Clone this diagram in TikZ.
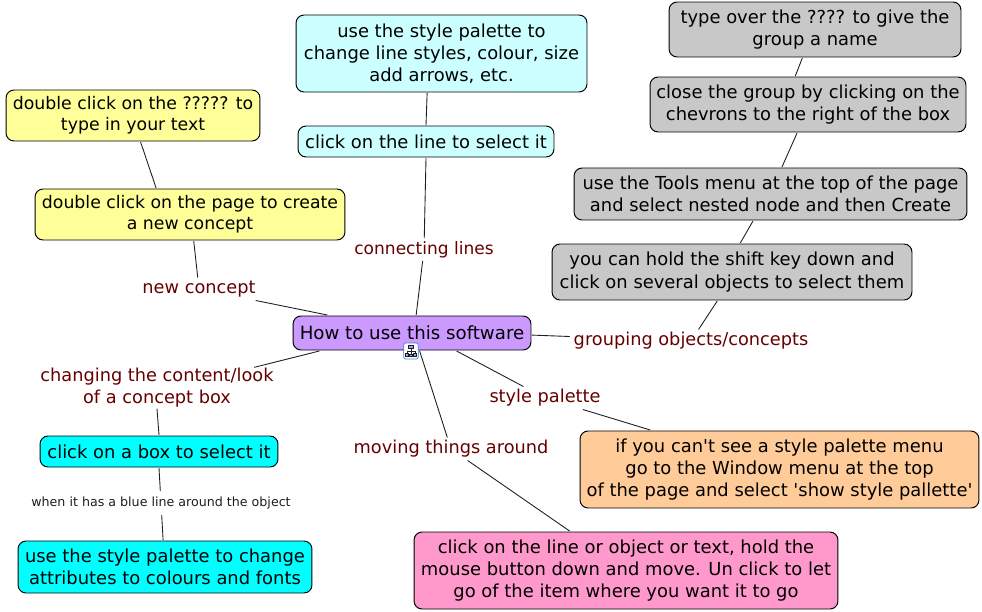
\documentclass[tikz,border=0pt]{standalone}
\usepackage{fontspec}
\setmainfont{DejaVu Sans}
\definecolor{lblred}{RGB}{102,0,0}
\definecolor{lineblk}{RGB}{30,30,30}
\definecolor{boxaqua}{RGB}{0,255,255}
\begin{document}
\begin{tikzpicture}[x=0.02cm,y=-0.02cm,
  every node/.style={outer sep=0.02cm, align=center, inner sep=0pt},
  cbox/.style={draw=black, line width=0.55pt, rounded corners=0.16cm, font=\fontsize{10.2}{12.6}\selectfont},
  lbl/.style={text=lblred, font=\fontsize{10.1}{12.6}\selectfont, minimum height=0.42cm, inner xsep=0.06cm},
  conn/.style={draw=lineblk, line width=0.5pt}]
\useasboundingbox (0,0) rectangle (982,611);

\node[cbox, fill={rgb,255:red,204;green,153;blue,255}, minimum width=4.76cm, minimum height=0.68cm, font=\fontsize{10.35}{12.6}\selectfont] (root) at (412,333) {How to use this software};

\node[cbox, fill={rgb,255:red,255;green,255;blue,153}, minimum width=5.08cm, minimum height=1.02cm, font=\fontsize{9.85}{11.8}\selectfont] (dbltext) at (133,115.5) {double click on the ????? to\\type in your text};
\node[cbox, fill={rgb,255:red,255;green,255;blue,153}, minimum width=6.2cm, minimum height=1.02cm, font=\fontsize{9.85}{11.8}\selectfont] (dblpage) at (190,214.5) {double click on the page to create\\a new concept};
\node[lbl] (newconcept) at (199,289) {new concept};

\node[cbox, fill={rgb,255:red,204;green,255;blue,255}, minimum width=5.82cm, minimum height=1.54cm] (palette) at (441.5,53.5) {use the style palette to\\change line styles, colour, size\\add arrows, etc.};
\node[cbox, fill={rgb,255:red,204;green,255;blue,255}, minimum width=5.12cm, minimum height=0.62cm] (clickline) at (426,141.5) {click on the line to select it};
\node[lbl, font=\fontsize{9.7}{12.6}\selectfont] (connecting) at (424,249.5) {connecting lines};

\node[cbox, fill={rgb,255:red,200;green,200;blue,200}, minimum width=5.84cm, minimum height=1.1cm] (typeover) at (815,29.5) {type over the ???? to give the\\group a name};
\node[cbox, fill={rgb,255:red,200;green,200;blue,200}, minimum width=6.32cm, minimum height=1.1cm] (closegrp) at (808,104.5) {close the group by clicking on the\\chevrons to the right of the box};
\node[cbox, fill={rgb,255:red,200;green,200;blue,200}, minimum width=7.86cm, minimum height=1.04cm] (tools) at (770.5,194) {use the Tools menu at the top of the page\\and select nested node and then Create};
\node[cbox, fill={rgb,255:red,200;green,200;blue,200}, minimum width=7.2cm, minimum height=1.12cm] (shift) at (732,272) {you can hold the shift key down and\\click on several objects to select them};
\node[lbl] (grouping) at (691,341) {grouping objects/concepts};

\node[lbl] (stylepal) at (545,398) {style palette};
\node[cbox, fill={rgb,255:red,255;green,204;blue,153}, minimum width=7.98cm, minimum height=1.54cm] (ifbox) at (779.5,469.5) {if you can\textquotesingle t see a style palette menu\\go to the Window menu at the top\\of the page and select \textquotesingle show style pallette\textquotesingle};

\node[lbl] (moving) at (451,449) {moving things around};
\node[cbox, fill={rgb,255:red,255;green,153;blue,204}, minimum width=8.48cm, minimum height=1.54cm] (gobox) at (626,570.5) {click on the line or object or text, hold the\\mouse button down and move. Un click to let\\go of the item where you want it to go};

\node[lbl] (changing) at (157,388) {changing the content/look\\of a concept box};
\node[cbox, fill=boxaqua, minimum width=4.76cm, minimum height=0.62cm] (clickbox) at (159,451.5) {click on a box to select it};
\node[text=lineblk, font=\fontsize{7.2}{9}\selectfont, minimum height=0.44cm] (bluelbl) at (161,503) {when it has a blue line around the object};
\node[cbox, fill=boxaqua, minimum width=5.88cm, minimum height=1.04cm] (attrbox) at (165,567) {use the style palette to change\\attributes to colours and fonts};

\draw[conn] (dbltext.-74) -- (dblpage.142);
\draw[conn] (dblpage.-82) -- (newconcept);
\draw[conn] (newconcept) -- (root.168);
\draw[conn] (palette.-110) -- (clickline.north);
\draw[conn] (clickline.south) -- (connecting);
\draw[conn] (connecting) -- (root.77);
\draw[conn] (typeover.-114) -- (closegrp.114);
\draw[conn] (closegrp.-111) -- (tools.67);
\draw[conn] (tools.-123) -- (shift.74);
\draw[conn] (shift.-117) -- (grouping);
\draw[conn] (root.-1) -- (grouping);
\draw[conn] (root.-22) -- (stylepal);
\draw[conn] (stylepal) -- (ifbox.163.5);
\draw[conn] (root.-67) -- (moving);
\draw[conn] (moving) -- (gobox.145);
\draw[conn] (root.191) -- (changing.12.8);
\draw[conn] (changing.south) -- (clickbox.north);
\draw[conn] (clickbox.south) -- (bluelbl);
\draw[conn] (bluelbl) -- (attrbox.94);

\node[draw={rgb,255:red,70;green,130;blue,220}, fill=white, rounded corners=0.04cm, minimum width=0.29cm, minimum height=0.32cm] (treeicon) at (411,351) {};
\draw[lineblk, line width=0.35pt, fill=blue!40] (408.5,345.5) rectangle (413.5,348);
\draw[lineblk, line width=0.35pt] (411,348) -- (411,354) (407,351) -- (415,351) (407,351) -- (407,353) (415,351) -- (415,353);
\draw[lineblk, line width=0.35pt, fill=blue!40] (405.5,353) rectangle (408.5,356);
\draw[lineblk, line width=0.35pt, fill=blue!40] (409.5,354) rectangle (412.5,356);
\draw[lineblk, line width=0.35pt, fill=blue!40] (413.5,353) rectangle (416.5,356);
\end{tikzpicture}
\end{document}
